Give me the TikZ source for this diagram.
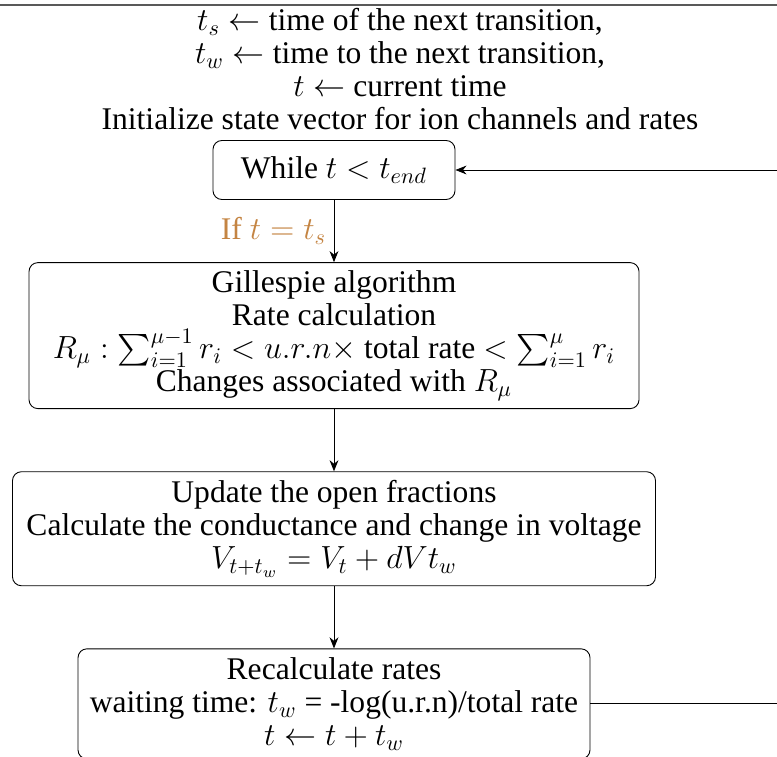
\documentclass[tikz,border=0pt]{standalone}
\usepackage{amsmath,amssymb}
\usepackage{fontspec}
\setmainfont{Liberation Serif}
\usepackage{tikz}
\usetikzlibrary{arrows.meta, positioning, shapes.misc, calc}
\definecolor{condcol}{RGB}{196,132,66}

\begin{document}
\begin{tikzpicture}[x=0.45pt, y=-0.45pt,
    font=\fontsize{14.2}{14.9}\selectfont,
    stepbox/.style={draw, rounded corners=4pt, align=center, inner sep=2pt},
    flow/.style={-{Stealth[length=5pt,width=4pt]}, thin},
    node distance=28pt]
    \useasboundingbox (0,0) rectangle (777,756);
    \clip (0,0) rectangle (777,756);
    \draw[gray!70!black, line width=0.9pt] (0,5) -- (777,5);
    % initial values
    \node[align=center] (init) at (400,69)
        {$t_s \leftarrow$ time of the next transition,\\
         $t_w \leftarrow$ time to the next transition,\\
         $t \leftarrow$ current time\\
         Initialize state vector for ion channels and rates};
    \node[stepbox, minimum width=242*0.45pt, minimum height=59*0.45pt] (while) at (334,170)
        {While $t < t_{end}$};
    \node[stepbox, below=28pt of while, minimum width=610*0.45pt, minimum height=146*0.45pt] (gill)
        {Gillespie algorithm\\
         Rate calculation\\
         $R_\mu : \sum_{i=1}^{\mu-1} r_i < u.r.n \times$ total rate $< \sum_{i=1}^{\mu} r_i$\\
         Changes associated with $R_\mu$};
    \node[stepbox, below=28pt of gill, minimum width=643*0.45pt, minimum height=114*0.45pt] (upd)
        {Update the open fractions\\
         Calculate the conductance and change in voltage\\
         $V_{t+t_w} = V_t + dV t_w$};
    \node[stepbox, below=28pt of upd, minimum width=512*0.45pt, minimum height=110*0.45pt] (recalc)
        {Recalculate rates\\
         waiting time: $t_w$ = -log(u.r.n)/total rate\\
         $t \leftarrow t + t_w$};
    \coordinate (loop) at (820,0);
    % connectors
    \draw[flow] (while) -- node[left, text=condcol] {If $t = t_s$} (gill);
    \draw[flow] (gill) -- (upd);
    \draw[flow] (upd) -- (recalc);
    \draw[flow] (recalc.east) -- (recalc.east -| loop) |- (while.east);
\end{tikzpicture}
\end{document}
